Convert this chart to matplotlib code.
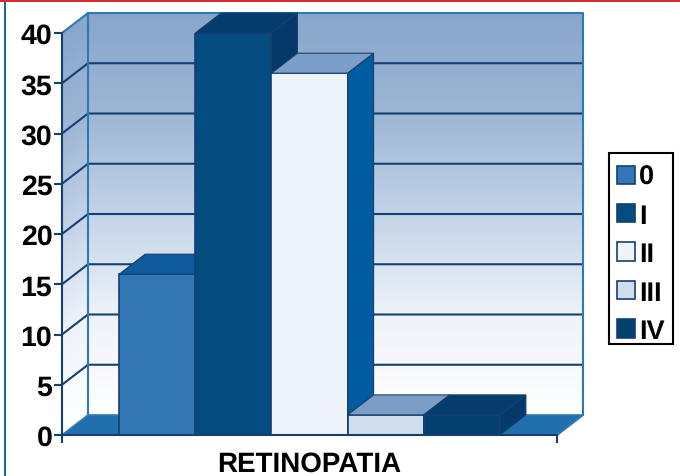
import numpy as np
import matplotlib
matplotlib.use('Agg')
import matplotlib.pyplot as plt
from matplotlib.patches import Polygon, Rectangle

plt.rcParams['font.family'] = ['Liberation Sans', 'DejaVu Sans']
plt.rcParams['font.weight'] = 'bold'
plt.rcParams['text.hinting'] = 'none'

categories = ['0', 'I', 'II', 'III', 'IV']
values = [16, 40, 36, 2, 2]
yticks = [0, 5, 10, 15, 20, 25, 30, 35, 40]
front_colors = ['#3277b3', '#044b80', '#eff4fa', '#d0deed', '#04406f']
side_colors = ['#05396a', '#05396a', '#015b9f', '#05396a', '#05396a']
top_colors = ['#0f5a9c', '#053c6e', '#7c9fc9', '#7b9dc6', '#053c6e']
line_color = '#143f72'
wall_color = '#2f78b6'
floor_color = '#2170ae'

W, H = 680, 477
fig = plt.figure(figsize=(W / 100, H / 100), dpi=100)
ax = fig.add_axes([62 / W, 1 - 436 / H, 495 / W, 402 / H])
ax.patch.set_alpha(0)

xmin, xmax = -0.75, 5.75
dx = 26 * (xmax - xmin) / 495
dy = 20 * 40 / 402

# gradient of the walls, dark at the top and white at the bottom
grad = np.linspace(0, 1, 256).reshape(-1, 1)
cmap = matplotlib.colors.LinearSegmentedColormap.from_list(
    'wall', ['#88a6cb', '#9db6d5', '#c3d3e7', '#eef3f9', '#ffffff'])
ax.imshow(grad, extent=(xmin + dx, xmax + dx, dy, 40 + dy), cmap=cmap,
          aspect='auto', zorder=1, clip_on=False)
ax.set_xlim(xmin, xmax)
ax.set_ylim(0, 40)

# left wall cut in thin strips so the shading follows the slope
n = 60
for i in range(n):
    a = i / n
    b = (i + 1) / n
    c = cmap(1 - (a + b) / 2)
    ax.add_patch(Polygon([(xmin, 40 * a), (xmin, 40 * b),
                          (xmin + dx, 40 * b + dy), (xmin + dx, 40 * a + dy)],
                         fc=c, ec=c, lw=0.6, zorder=1, clip_on=False))

# floor
ax.add_patch(Polygon([(xmin, 0), (xmax, 0), (xmax + dx, dy), (xmin + dx, dy)],
                     fc=floor_color, ec='none', zorder=2, clip_on=False))

# gridlines on the walls
for t in yticks[1:-1]:
    ax.plot([xmin, xmin + dx, xmax + dx], [t, t + dy, t + dy], color=line_color,
            lw=1.5, zorder=3, clip_on=False, solid_joinstyle='miter')
ax.plot([xmin, xmin + dx, xmax + dx, xmax + dx, xmax],
        [40, 40 + dy, 40 + dy, dy, 0], color=wall_color, lw=1.5, zorder=3, clip_on=False)
ax.plot([xmin + dx, xmin + dx], [dy, 40 + dy], color=wall_color, lw=1.5, zorder=3, clip_on=False)
ax.plot([xmin, xmin + dx, xmax + dx], [0, dy, dy], color=wall_color, lw=1.2, zorder=3, clip_on=False)

# bars, each one drawn over the previous
xs = np.arange(len(values))
for i, v in enumerate(values):
    z = 4 + i
    x0 = xs[i]
    x1 = x0 + 1
    ax.bar(x0, v, width=1, align='edge', color=front_colors[i], edgecolor=line_color,
           linewidth=1.2, zorder=z, label=categories[i])
    ax.add_patch(Polygon([(x1, 0), (x1 + dx, dy), (x1 + dx, v + dy), (x1, v)],
                         fc=side_colors[i], ec=line_color, lw=0.8, zorder=z, clip_on=False))
    ax.add_patch(Polygon([(x0, v), (x0 + dx, v + dy), (x1 + dx, v + dy), (x1, v)],
                         fc=top_colors[i], ec=line_color, lw=0.8, zorder=z, clip_on=False))

ax.set_yticks(yticks)
ax.set_xticks([xmin, xmax])
ax.set_xticklabels([])
ax.tick_params(axis='y', length=5.5, width=1.5, color=line_color, labelsize=20.5, pad=1.5)
ax.tick_params(axis='x', length=5.5, width=1.5, color=line_color)
for s in ['top', 'right']:
    ax.spines[s].set_visible(False)
for s in ['left', 'bottom']:
    ax.spines[s].set_color(line_color)
    ax.spines[s].set_linewidth(1.5)
    ax.spines[s].set_zorder(20)
ax.set_xlabel('RETINOPATIA', fontsize=20, fontweight='bold', labelpad=2)

# legend frame is a plain box, the automatic one came out too wide
ax.add_patch(Rectangle((609 / W, 1 - 345 / H), 64 / W, 191.5 / H, transform=fig.transFigure,
                       fc='white', ec='black', lw=1.5, zorder=29, clip_on=False))
leg = ax.legend(loc='upper left', bbox_to_anchor=(609 / W, 1 - 157.5 / H),
                bbox_transform=fig.transFigure, fontsize=19.5, frameon=False,
                handlelength=0.66, handleheight=0.66,
                handletextpad=0.15, labelspacing=0.49, borderaxespad=0, borderpad=0.3)
leg.set_zorder(30)

# page border pieces from the source layout
fig.add_artist(Rectangle((0, 1 - 2.5 / H), 1, 2.5 / H, transform=fig.transFigure,
                         fc='#d7282f', ec='none'))
fig.add_artist(Rectangle((3.5 / W, 0), 2.5 / W, 1 - 2.5 / H, transform=fig.transFigure,
                         fc='#1468ad', ec='none'))

fig.savefig('out.png', dpi=100)
